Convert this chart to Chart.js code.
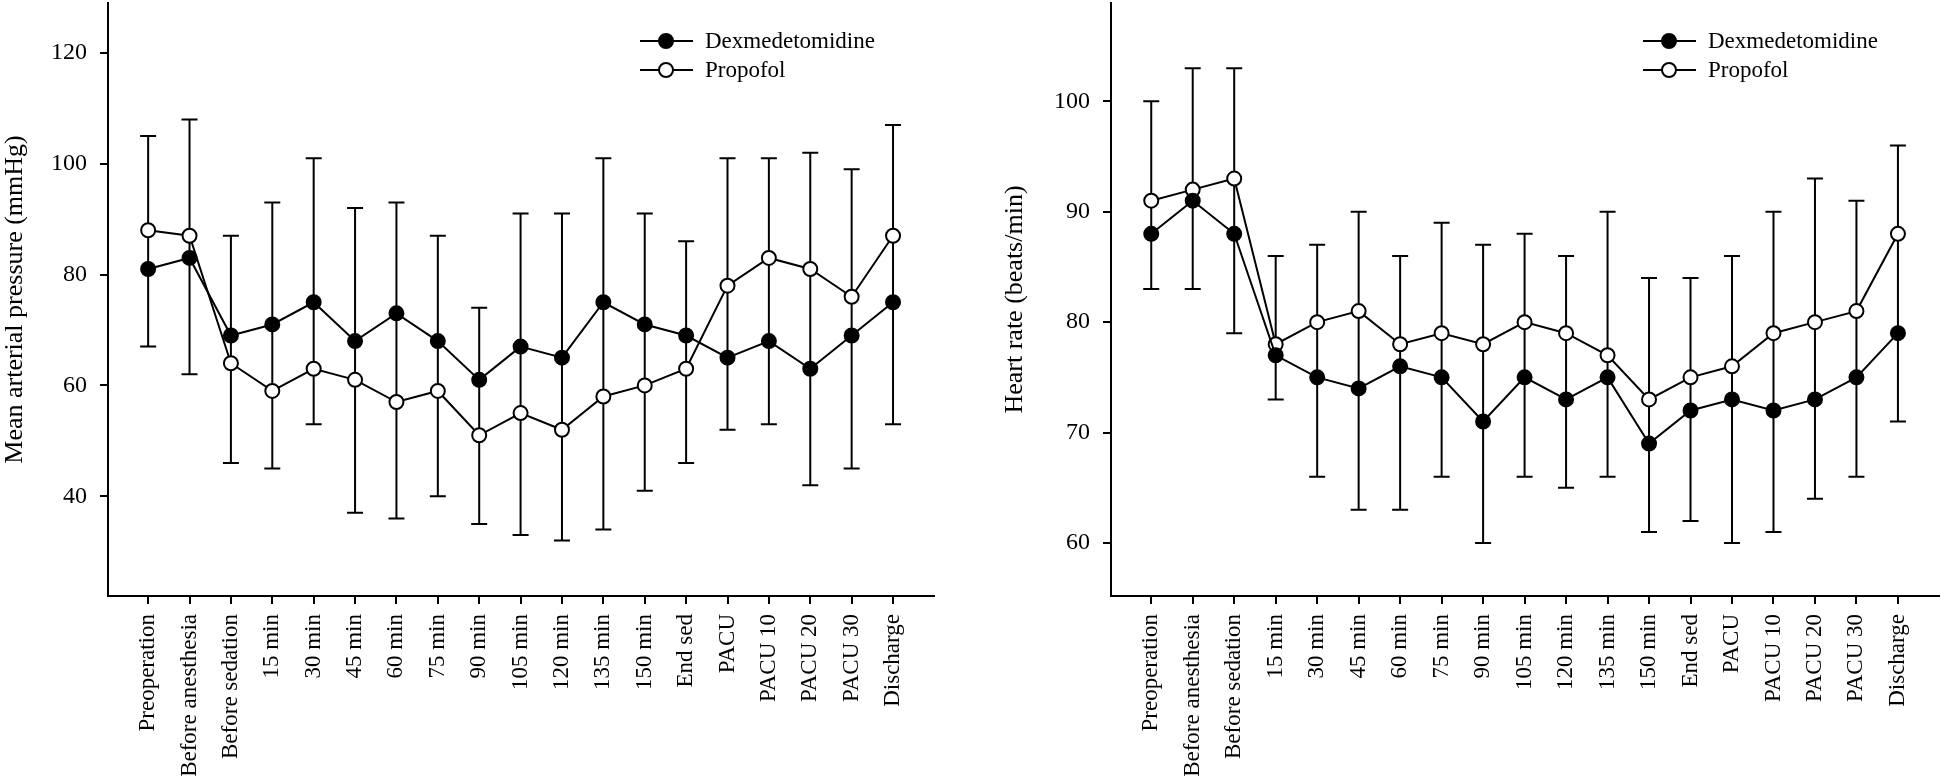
<!DOCTYPE html>
<html>
<head>
<meta charset="utf-8">
<script src="https://cdn.jsdelivr.net/npm/chart.js@4.4.1/dist/chart.umd.min.js"></script>
<style>
  body { margin: 0; background: #fff; }
  .panel { position: absolute; top: 0; }
</style>
</head>
<body>
<div class="panel" style="left:0px"><canvas id="mapChart" width="960" height="782"></canvas></div>
<div class="panel" style="left:1000px"><canvas id="hrChart" width="946" height="782"></canvas></div>
<script>
var labels = ["Preoperation", "Before anesthesia", "Before sedation", "15 min", "30 min", "45 min",
  "60 min", "75 min", "90 min", "105 min", "120 min", "135 min", "150 min", "End sed",
  "PACU", "PACU 10", "PACU 20", "PACU 30", "Discharge"];

// mean arterial pressure (mmHg)
var mapDex = [81, 83, 69, 71, 75, 68, 73, 68, 61, 67, 65, 75, 71, 69, 65, 68, 63, 69, 75];
var mapProp = [88, 87, 64, 59, 63, 61, 57, 59, 51, 55, 52, 58, 60, 63, 78, 83, 81, 76, 87];
var mapUpper = [105, 108, 87, 93, 101, 92, 93, 87, 74, 91, 91, 101, 91, 86, 101, 101, 102, 99, 107];
var mapLower = [67, 62, 46, 45, 53, 37, 36, 40, 35, 33, 32, 34, 41, 46, 52, 53, 42, 45, 53];
var mapTicks = [40, 60, 80, 100, 120];

// heart rate (beats/min)
var hrDex = [88, 91, 88, 77, 75, 74, 76, 75, 71, 75, 73, 75, 69, 72, 73, 72, 73, 75, 79];
var hrProp = [91, 92, 93, 78, 80, 81, 78, 79, 78, 80, 79, 77, 73, 75, 76, 79, 80, 81, 88];
var hrUpper = [100, 103, 103, 86, 87, 90, 86, 89, 87, 88, 86, 90, 84, 84, 86, 90, 93, 91, 96];
var hrLower = [83, 83, 79, 73, 66, 63, 63, 66, 60, 66, 65, 66, 61, 62, 60, 61, 64, 66, 71];
var hrTicks = [60, 70, 80, 90, 100];

Chart.defaults.font.family = '"Liberation Serif", "Times New Roman", serif';
Chart.defaults.color = "#000";

var errorBars = {
  id: "errorBars",
  beforeDatasetsDraw: function (chart, args, opts) {
    var ctx = chart.ctx, x = chart.scales.x, y = chart.scales.y;
    ctx.save();
    ctx.strokeStyle = "#000";
    ctx.lineWidth = 2;
    for (var i = 0; i < opts.upper.length; i++) {
      var px = x.getPixelForValue(i);
      var top = y.getPixelForValue(opts.upper[i]);
      var bot = y.getPixelForValue(opts.lower[i]);
      ctx.beginPath();
      ctx.moveTo(px, top); ctx.lineTo(px, bot);
      ctx.moveTo(px - 8, top); ctx.lineTo(px + 8, top);
      ctx.moveTo(px - 8, bot); ctx.lineTo(px + 8, bot);
      ctx.stroke();
    }
    ctx.restore();
  }
};

var lineLegend = {
  id: "lineLegend",
  afterDraw: function (chart) {
    var ctx = chart.ctx, left = chart.chartArea.left;
    ctx.save();
    ctx.font = "23px " + Chart.defaults.font.family;
    ctx.textBaseline = "middle";
    chart.data.datasets.forEach(function (ds, k) {
      var yy = 41 + k * 29;
      ctx.strokeStyle = "#000";
      ctx.lineWidth = 2;
      ctx.beginPath();
      ctx.moveTo(left + 532, yy); ctx.lineTo(left + 585, yy);
      ctx.stroke();
      ctx.beginPath();
      ctx.arc(left + 558, yy, 7, 0, Math.PI * 2);
      ctx.fillStyle = ds.pointBackgroundColor;
      ctx.fill();
      ctx.stroke();
      ctx.fillStyle = "#000";
      ctx.fillText(ds.label, left + 597, yy + 1);
    });
    ctx.restore();
  }
};

function series(label, values, fill) {
  return {
    label: label,
    data: values.map(function (v, i) { return { x: i, y: v }; }),
    borderColor: "#000",
    borderWidth: 2,
    pointRadius: 7,
    pointBorderWidth: 2,
    pointBorderColor: "#000",
    pointBackgroundColor: fill,
    backgroundColor: fill,
    tension: 0
  };
}

function makeChart(id, dex, prop, upper, lower, yTicks, yMin, yMax, title, axisWidth, rightPad) {
  return new Chart(document.getElementById(id), {
    type: "line",
    data: {
      datasets: [series("Dexmedetomidine", dex, "#000"), series("Propofol", prop, "#fff")]
    },
    plugins: [errorBars, lineLegend],
    options: {
      responsive: false,
      animation: false,
      layout: { autoPadding: false, padding: { top: 3, right: rightPad, left: 0, bottom: 0 } },
      plugins: {
        legend: { display: false },
        tooltip: { enabled: false },
        errorBars: { upper: upper, lower: lower }
      },
      scales: {
        x: {
          type: "linear",
          min: -0.97,
          max: 18.99,
          afterBuildTicks: function (s) { s.ticks = labels.map(function (l, i) { return { value: i }; }); },
          afterFit: function (s) { s.height = 186; s.paddingLeft = 0; s.paddingRight = 0; },
          ticks: {
            autoSkip: false,
            minRotation: 90,
            maxRotation: 90,
            padding: 10,
            font: { size: 23 },
            callback: function (v) { return labels[v]; }
          },
          grid: { drawOnChartArea: false, drawTicks: true, tickLength: 8, color: "#000", lineWidth: 2 },
          border: { display: true, color: "#000", width: 2 }
        },
        y: {
          min: yMin,
          max: yMax,
          afterBuildTicks: function (s) { s.ticks = yTicks.map(function (v) { return { value: v }; }); },
          afterFit: function (s) { s.width = axisWidth; s.paddingTop = 0; s.paddingBottom = 0; },
          ticks: { padding: 13, font: { size: 24 } },
          title: { display: true, text: title, font: { size: 26 }, padding: 0 },
          grid: { drawOnChartArea: false, drawTicks: true, tickLength: 8, color: "#000", lineWidth: 2 },
          border: { display: true, color: "#000", width: 2 }
        }
      }
    }
  });
}

makeChart("mapChart", mapDex, mapProp, mapUpper, mapLower, mapTicks, 22, 129, "Mean arterial pressure (mmHg)", 108, 26);
makeChart("hrChart", hrDex, hrProp, hrUpper, hrLower, hrTicks, 55.2, 108.9, "Heart rate (beats/min)", 111, 7);
</script>
</body>
</html>
